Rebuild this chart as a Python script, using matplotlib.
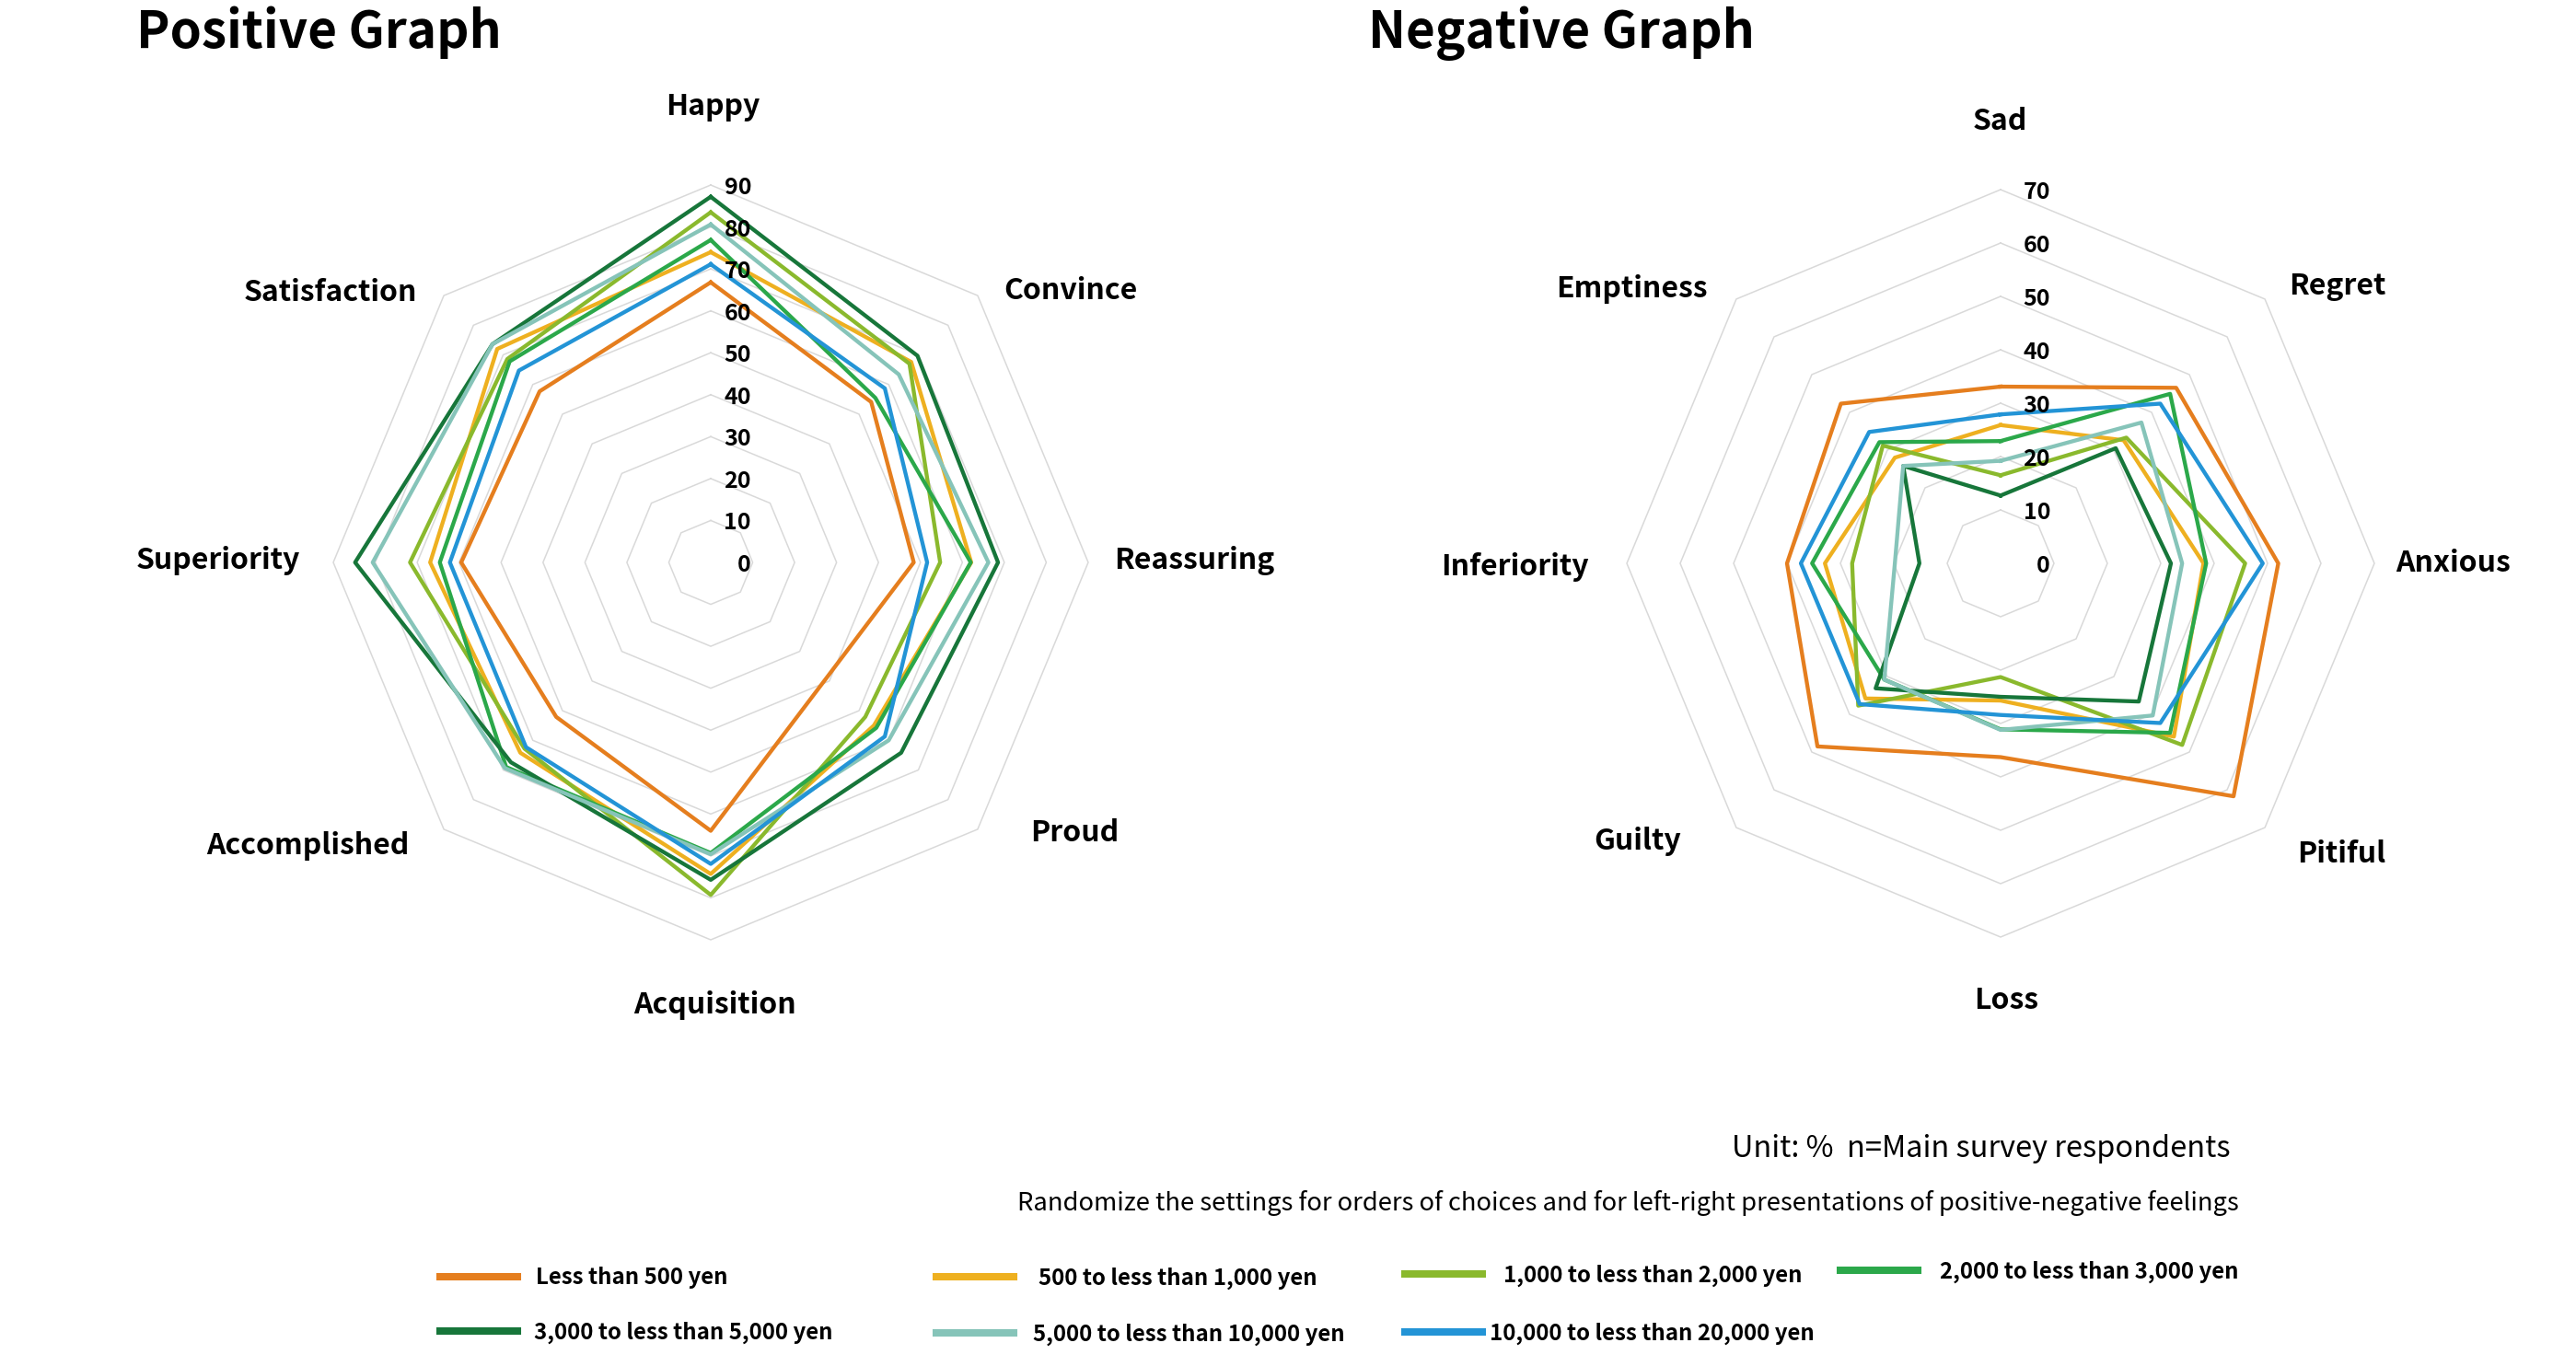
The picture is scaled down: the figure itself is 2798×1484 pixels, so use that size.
import numpy as np
import matplotlib
matplotlib.use('Agg')
import matplotlib.pyplot as plt
from matplotlib.lines import Line2D

plt.rcParams['font.family'] = ['Noto Sans CJK JP', 'DejaVu Sans']

W, H = 2798, 1484

series_labels = ['Less than 500 yen', '500 to less than 1,000 yen', '1,000 to less than 2,000 yen',
                 '2,000 to less than 3,000 yen', '3,000 to less than 5,000 yen',
                 '5,000 to less than 10,000 yen', '10,000 to less than 20,000 yen']
series_colors = ['#E57E1E', '#EEB020', '#8AB92D', '#2BA84A', '#17763A', '#86C4B9', '#2394D6']

pos_categories = ['Happy', 'Convince', 'Reassuring', 'Proud', 'Acquisition',
                  'Accomplished', 'Superiority', 'Satisfaction']
neg_categories = ['Sad', 'Regret', 'Anxious', 'Pitiful', 'Loss',
                  'Guilty', 'Inferiority', 'Emptiness']

# % theo tung muc chi tieu (moi dong la mot nhom)
pos_values = [
    [66.8, 54.1, 48.4, 39.0, 64.0, 52.1, 59.5, 57.7],
    [74.0, 67.6, 62.1, 55.0, 74.3, 64.2, 66.9, 72.0],
    [83.5, 67.0, 54.7, 52.1, 79.3, 62.8, 71.7, 68.6],
    [76.9, 55.5, 62.0, 55.8, 69.3, 69.0, 64.6, 67.8],
    [87.2, 69.7, 68.5, 64.2, 75.7, 67.4, 84.8, 73.6],
    [80.6, 63.4, 66.2, 60.0, 69.6, 69.4, 80.6, 73.6],
    [71.1, 58.7, 51.6, 58.7, 71.9, 62.3, 62.2, 64.7],
]
neg_values = [
    [33.1, 46.5, 52.0, 61.7, 36.3, 48.5, 40.0, 42.3],
    [25.9, 32.6, 38.0, 45.9, 25.7, 35.8, 32.9, 28.0],
    [16.5, 33.3, 45.8, 48.1, 21.3, 37.7, 27.8, 31.2],
    [22.9, 44.9, 38.5, 44.9, 31.1, 30.8, 35.3, 32.1],
    [12.7, 30.5, 31.9, 36.6, 25.0, 33.1, 15.2, 25.8],
    [19.2, 37.3, 34.0, 40.3, 31.2, 30.8, 19.8, 25.8],
    [27.9, 42.3, 49.1, 42.3, 28.4, 37.3, 37.4, 34.8],
]

# vi tri nhan danh muc (pixel so voi tam)
pos_label_offsets = [(2, -495), (391, -295), (525, -2), (395, 294),
                     (4, 481), (-438, 308), (-535, -2), (-413, -293)]
neg_label_offsets = [(-1, -480), (366, -301), (491, 0), (370, 316),
                     (6, 475), (-394, 302), (-528, 4), (-401, -298)]


def ve_radar(ax, categories, rows, rmax, step, label_offsets, tick_dx):
    n = len(categories)
    angles = np.linspace(0, 2 * np.pi, n, endpoint=False)
    closed = np.append(angles, angles[0])
    ax.set_theta_zero_location('N')
    ax.set_theta_direction(-1)
    ax.set_ylim(0, rmax)
    ax.grid(False)
    ax.set_xticks([])
    ax.set_yticks([])
    ax.spines['polar'].set_visible(False)
    ax.patch.set_alpha(0)
    for lv in range(step, rmax + 1, step):
        ax.plot(closed, [lv] * (n + 1), color='#d9d9d9', lw=1.1, zorder=1, clip_on=False)
    for vals, color in zip(rows, series_colors):
        ax.plot(closed, vals + vals[:1], color=color, lw=3.1, zorder=3, clip_on=False)
    for lv in range(0, rmax + 1, step):
        ax.annotate(str(lv), xy=(0, lv), xytext=(tick_dx, -3), textcoords='offset pixels',
                    ha='right', va='center', fontsize=18, fontweight='bold', zorder=5)
    for cat, (dx, dy) in zip(categories, label_offsets):
        ax.annotate(cat, xy=(0, 0), xytext=(dx, -dy), textcoords='offset pixels',
                    ha='center', va='center', fontsize=23, fontweight='bold')


def rect(cx, cy, r):
    return [(cx - r) / W, (H - cy - r) / H, 2 * r / W, 2 * r / H]


fig = plt.figure(figsize=(W / 100, H / 100), dpi=100)

ax1 = fig.add_axes(rect(772, 611, 410), projection='polar')
ve_radar(ax1, pos_categories, pos_values, 90, 10, pos_label_offsets, 44)

ax2 = fig.add_axes(rect(2173, 612, 406), projection='polar')
ve_radar(ax2, neg_categories, neg_values, 70, 10, neg_label_offsets, 54)

fig.text(148 / W, 1 - 52 / H, 'Positive Graph', fontsize=39.5, fontweight='bold', ha='left', va='baseline')
fig.text(1486 / W, 1 - 52 / H, 'Negative Graph', fontsize=39.5, fontweight='bold', ha='left', va='baseline')

fig.text(2423 / W, 1 - 1248 / H, 'Unit: %  n=Main survey respondents', fontsize=23.4, ha='right', va='center')
fig.text(2432 / W, 1 - 1307 / H,
         'Randomize the settings for orders of choices and for left-right presentations of positive-negative feelings',
         fontsize=19.7, ha='right', va='center')

legend_pos = [(478, 1388), (1017, 1389), (1526, 1386), (1999, 1382),
              (478, 1448), (1017, 1450), (1526, 1449)]
legend_text_x = [582, 1128, 1633, 2107, 580, 1122, 1618]
fs = 17.3
fs_px = fs * 100 / 72
for label, color, (x, y), tx in zip(series_labels, series_colors, legend_pos, legend_text_x):
    h = Line2D([], [], color=color, lw=5.8)
    pad = (tx - x - 84) / fs_px
    fig.legend(handles=[h], labels=[label], loc='center left', bbox_to_anchor=(x / W, 1 - y / H),
               frameon=False, borderpad=0, borderaxespad=0, handlelength=84 / fs_px, handletextpad=pad,
               prop={'size': fs, 'weight': 'bold'})

fig.savefig('out.png', dpi=100)
plt.close(fig)
